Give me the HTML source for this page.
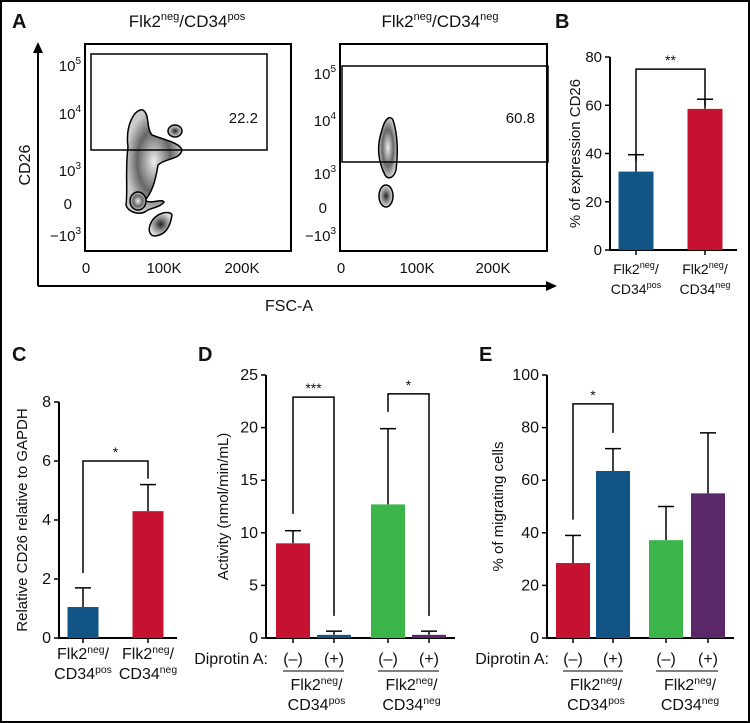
<!DOCTYPE html>
<html><head><meta charset="utf-8">
<style>
html,body{margin:0;padding:0;background:#fff}
svg{display:block}
text{font-family:"Liberation Sans",sans-serif;fill:#111}
.n{font-family:"Liberation Sans Narrow","Liberation Sans",sans-serif}
.pl{font-weight:bold;font-size:20px}
</style></head>
<body>
<svg id="fig" width="750" height="723" viewBox="0 0 750 723">
<rect x="1" y="1" width="748" height="721" fill="#fff" stroke="#000" stroke-width="2"/>
<defs>
<radialGradient id="g1"><stop offset="0" stop-color="#222"/><stop offset="0.5" stop-color="#888"/><stop offset="1" stop-color="#ddd"/></radialGradient>
<radialGradient id="g2"><stop offset="0" stop-color="#eee"/><stop offset="0.6" stop-color="#666"/><stop offset="1" stop-color="#ccc"/></radialGradient>
</defs>

<!-- Panel A -->
<g>
<text x="12" y="28" class="pl">A</text>
<text x="187" y="27" font-size="17" text-anchor="middle">Flk2<tspan font-size="11" dy="-7">neg</tspan><tspan dy="7">/CD34</tspan><tspan font-size="11" dy="-7">pos</tspan></text>
<text x="440" y="27" font-size="17" text-anchor="middle">Flk2<tspan font-size="11" dy="-7">neg</tspan><tspan dy="7">/CD34</tspan><tspan font-size="11" dy="-7">neg</tspan></text>
<line x1="38" y1="52" x2="38" y2="286" stroke="#000" stroke-width="2"/>
<polygon points="38,42 33,53 43,53" fill="#000"/>
<line x1="38" y1="286" x2="548" y2="286" stroke="#000" stroke-width="2"/>
<polygon points="557,286 546,281 546,291" fill="#000"/>
<text class="n" x="30" y="165" font-size="16" text-anchor="middle" transform="rotate(-90 30 165)">CD26</text>
<text class="n" x="289" y="311" font-size="16" text-anchor="middle">FSC-A</text>

<g>
<rect x="85" y="44" width="206" height="207" fill="none" stroke="#000" stroke-width="2"/>
<g stroke="#000" stroke-width="1.5">
<path d="M128,147 C125,125 135,108 143,110 C150,115 146,128 152,135 C165,140 180,143 182,150 C180,160 165,158 158,165 C155,185 150,195 145,200 C150,205 162,198 164,202 C160,208 148,208 145,212 C138,215 128,212 126,205 C128,190 125,170 128,147 Z" fill="url(#g2)"/>
<ellipse cx="175" cy="131" rx="7" ry="6" fill="url(#g1)"/>
<path d="M150,225 C155,212 170,210 172,215 C170,228 165,235 155,236 C150,236 148,231 150,225 Z" fill="url(#g1)"/>
<ellipse cx="138" cy="201" rx="8" ry="9" fill="url(#g2)"/>
</g>
<rect x="91" y="54" width="176" height="96" fill="none" stroke="#000" stroke-width="1.5"/>
<text x="258" y="123" font-size="15" text-anchor="end">22.2</text>
</g>
<g>
<rect x="340" y="44" width="207" height="207" fill="none" stroke="#000" stroke-width="2"/>
<g stroke="#000" stroke-width="1.5">
<path d="M382,130 C385,118 390,115 393,120 C398,135 398,155 396,170 C394,178 388,180 385,175 C380,165 375,150 382,130 Z" fill="url(#g2)"/>
<ellipse cx="386" cy="196" rx="7" ry="11" fill="url(#g1)"/>
</g>
<rect x="342" y="66" width="206" height="96" fill="none" stroke="#000" stroke-width="1.5"/>
<text x="535" y="123" font-size="15" text-anchor="end">60.8</text>
</g>
<g font-size="15">
<text x="81" y="71" text-anchor="end">10<tspan font-size="10" dy="-7">5</tspan></text>
<text x="81" y="119" text-anchor="end">10<tspan font-size="10" dy="-7">4</tspan></text>
<text x="81" y="176" text-anchor="end">10<tspan font-size="10" dy="-7">3</tspan></text>
<text x="72" y="209" text-anchor="end">0</text>
<text x="81" y="241" text-anchor="end">−10<tspan font-size="10" dy="-7">3</tspan></text>
<text x="86" y="273" text-anchor="middle">0</text>
<text x="164" y="273" text-anchor="middle">100K</text>
<text x="242" y="273" text-anchor="middle">200K</text>
<text x="336" y="79" text-anchor="end">10<tspan font-size="10" dy="-7">5</tspan></text>
<text x="336" y="126" text-anchor="end">10<tspan font-size="10" dy="-7">4</tspan></text>
<text x="336" y="179" text-anchor="end">10<tspan font-size="10" dy="-7">3</tspan></text>
<text x="327" y="213" text-anchor="end">0</text>
<text x="336" y="241" text-anchor="end">−10<tspan font-size="10" dy="-7">3</tspan></text>
<text x="341" y="273" text-anchor="middle">0</text>
<text x="417" y="273" text-anchor="middle">100K</text>
<text x="493" y="273" text-anchor="middle">200K</text>
</g>
</g>

<g id="charts"></g>
</svg>
<script>
// Panel B
const bCats = ["Flk2neg/CD34pos","Flk2neg/CD34neg"];
const bVals = [32.5, 58.5];
const bErr = [39.5, 62.5];
const bTicks = [0,20,40,60,80];
// Panel C
const cCats = ["Flk2neg/CD34pos","Flk2neg/CD34neg"];
const cVals = [1.05, 4.3];
const cErr = [1.7, 5.2];
const cTicks = [0,2,4,6,8];
// Panel D
const dCats = ["(–)","(+)","(–)","(+)"];
const dVals = [9.0, 0.3, 12.7, 0.3];
const dErr = [10.2, 0.65, 19.9, 0.65];
const dTicks = [0,5,10,15,20,25];
// Panel E
const eCats = ["(–)","(+)","(–)","(+)"];
const eVals = [28.5, 63.5, 37.2, 55.0];
const eErr = [39.0, 72.0, 50.0, 78.0];
const eTicks = [0,20,40,60,80,100];

const NS="http://www.w3.org/2000/svg";
const root=document.getElementById('charts');
function mk(tag,attrs,parent,txt){const e=document.createElementNS(NS,tag);for(const k in attrs)e.setAttribute(k,attrs[k]);if(txt!==undefined)e.textContent=txt;(parent||root).appendChild(e);return e;}
function scale(y0,y1,max){return v=>y0-(v/max)*(y0-y1);}

function chart(o){
  const g=mk('g',{});
  
  
  const max=o.ticks[o.ticks.length-1];
  const y=scale(o.y0,o.y1,max);
  const lab=mk('text',{x:o.labelX,y:o.labelY,class:'pl'},g,o.letter);
  
  
  const ax=mk('path',{d:`M${o.ax},${y(max)} V${o.y0} H${o.axEnd}`,stroke:'#000','stroke-width':2,fill:'none'},g);
  
  
  o.ticks.forEach(t=>{
    mk('line',{x1:o.ax-5,x2:o.ax,y1:y(t),y2:y(t),stroke:'#000','stroke-width':1.5},g);
    const tl=mk('text',{x:o.ax-8,y:y(t)+5,'text-anchor':'end','font-size':o.tfs,class:o.cls},g,t);
    
    
  });
  const yt=mk('text',{x:o.ytX,y:(o.y0+y(max))/2,'text-anchor':'middle','font-size':15,class:'n',transform:`rotate(-90 ${o.ytX} ${(o.y0+y(max))/2})`},g,o.ytitle);
  
  
  o.vals.forEach((v,i)=>{
    const cx=o.xs[i];
    mk('line',{x1:cx,x2:cx,y1:y(v),y2:y(o.err[i]),stroke:'#000','stroke-width':1.5},g);
    mk('line',{x1:cx-8,x2:cx+8,y1:y(o.err[i]),y2:y(o.err[i]),stroke:'#000','stroke-width':1.5},g);
    const b=mk('rect',{x:cx-o.bw/2,y:y(v),width:o.bw,height:o.y0-y(v),fill:o.colors[i]},g);
    
    
    mk('line',{x1:cx,x2:cx,y1:o.y0,y2:o.y0+5,stroke:'#000','stroke-width':1.5},g);
  });
  o.brackets.forEach(br=>{
    const [i,j,top,l,r,star]=br;
    const p=mk('path',{d:`M${o.xs[i]},${y(l)} V${y(top)} H${o.xs[j]} V${y(r)}`,stroke:'#000','stroke-width':1.5,fill:'none'},g);
    
    
    const s=mk('text',{x:(o.xs[i]+o.xs[j])/2,y:y(top)-4,'text-anchor':'middle','font-size':14},g,star);
    
    
  });
  return {g,y};
}
function group(g,x,y,sup2,fs,cls){
  const t=mk('text',{x:x,y:y,'text-anchor':'middle','font-size':fs,class:cls},g);
  
  
  t.innerHTML=`Flk2<tspan font-size="${fs*0.65}" dy="-6">neg</tspan><tspan dy="6">/</tspan>`;
  const t2=mk('text',{x:x,y:y+20,'text-anchor':'middle','font-size':fs,class:cls},g);
  
  
  t2.innerHTML=`CD34<tspan font-size="${fs*0.65}" dy="-6">${sup2}</tspan>`;
}
const RED='#c41230',BLUE='#135486',GREEN='#3bb44a',PURPLE='#5a2869';

const B=chart({name:'panel-b',letter:'B',labelX:555,labelY:28,ax:610,axEnd:737,y0:250,y1:57,ticks:bTicks,tfs:15,cls:'',
  ytitle:'% of expression CD26',ytX:580,vals:bVals,err:bErr,xs:[636,705],bw:35,colors:[BLUE,RED],brackets:[[0,1,75,37,60,'**']]});
group(B.g,636,274,'pos',14,'');group(B.g,705,274,'neg',14,'');

const C=chart({name:'panel-c',letter:'C',labelX:12,labelY:361,ax:59,axEnd:177,y0:638,y1:402,ticks:cTicks,tfs:16,cls:'n',
  ytitle:'Relative CD26 relative to GAPDH',ytX:27,vals:cVals,err:cErr,xs:[83,148],bw:31,colors:[BLUE,RED],brackets:[[0,1,6.0,2.2,5.4,'*']]});
group(C.g,83,659,'pos',16,'n');group(C.g,148,659,'neg',16,'n');

function dipro(o,xs,g,lx){
  const t=mk('text',{x:lx,y:664,'text-anchor':'end','font-size':16,class:'n'},g,'Diprotin A:');
  
  
  o.forEach((c,i)=>{const s=mk('text',{x:xs[i],y:664,'text-anchor':'middle','font-size':16,class:'n'},g,c);
    
    });
  for(let k=0;k<2;k++){
    const a=xs[2*k],b=xs[2*k+1];
    mk('line',{x1:a-10,x2:b+10,y1:671,y2:671,stroke:'#555','stroke-width':1.5},g);
    group(g,(a+b)/2+3,690,k?'neg':'pos',16,'n');
  }
}
const D=chart({name:'panel-d',letter:'D',labelX:198,labelY:361,ax:266,axEnd:455,y0:638,y1:375,ticks:dTicks,tfs:16,cls:'n',
  ytitle:'Activity (nmol/min/mL)',ytX:228,vals:dVals,err:dErr,xs:[293,334,388,429],bw:34,colors:[RED,BLUE,GREEN,PURPLE],
  brackets:[[0,1,22.9,11.8,2.1,'***'],[2,3,23.2,21.5,2.1,'*']]});
dipro(dCats,[293,334,388,429],D.g,268);

const E=chart({name:'panel-e',letter:'E',labelX:479,labelY:361,ax:547,axEnd:734,y0:638,y1:375,ticks:eTicks,tfs:16,cls:'n',
  ytitle:'% of migrating cells',ytX:503,vals:eVals,err:eErr,xs:[573,613,666,708],bw:34,colors:[RED,BLUE,GREEN,PURPLE],
  brackets:[[0,1,89,45,78,'*']]});
dipro(eCats,[573,613,666,708],E.g,549);
</script>
</body></html>
